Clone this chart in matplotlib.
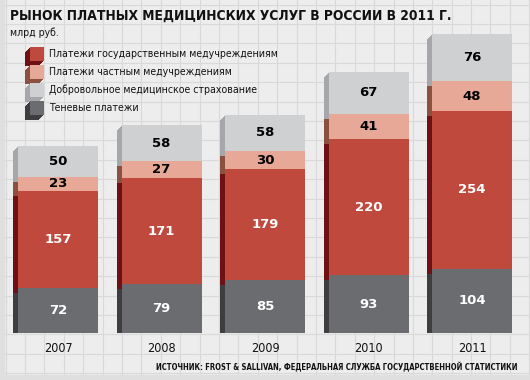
import matplotlib
matplotlib.use("Agg")
import matplotlib.pyplot as plt
from matplotlib.transforms import Affine2D
from matplotlib.patches import Rectangle
import numpy as np

years = ["2007", "2008", "2009", "2010", "2011"]
shadow = [72, 79, 85, 93, 104]
state = [157, 171, 179, 220, 254]
private = [23, 27, 30, 41, 48]
insurance = [50, 58, 58, 67, 76]

series = [shadow, state, private, insurance]
names = ["Теневые платежи", "Платежи государственным медучреждениям",
         "Платежи частным медучреждениям", "Добровольное медицинское страхование"]
front = ["#6b6c70", "#c0493e", "#e8a897", "#cfd0d2"]
side = ["#3e3e41", "#6e1014", "#8a5040", "#a6a7aa"]
txtcol = ["white", "white", "black", "black"]

W, H = 530, 380
fig = plt.figure(figsize=(W / 100, H / 100), dpi=100)
fig.patch.set_facecolor("#ecedec")
renderer = fig.canvas.get_renderer()


def fit(t, width):
    ext = t.get_window_extent(renderer=renderer)
    t.set_fontsize(t.get_fontsize() * width / ext.width)


# background grid
bg = fig.add_axes([0, 0, 1, 1])
bg.set_xlim(0, W)
bg.set_ylim(H, 0)
bg.axis("off")
bg.add_patch(Rectangle((0, 0), W, H, color="#ecedec", zorder=0))
for gx in np.arange(5.5, W, 19.4):
    bg.axvline(gx, color="#d8d9d8", lw=0.8, zorder=1)
for gy in np.arange(4.5, H, 19.4):
    bg.axhline(gy, color="#d8d9d8", lw=0.8, zorder=1)
bg.add_patch(Rectangle((0, 0), 4, H, color="#dedfde", zorder=2))
bg.add_patch(Rectangle((0, H - 5), W, 5, color="#dedfde", zorder=2))

# bars
ax = fig.add_axes([0, 47 / H, 1, 1 - 47 / H])
ax.patch.set_alpha(0)
ax.axis("off")
spacing = 103.5
ax.set_xlim(-58 / spacing, (W - 58) / spacing)
scale = 0.62
ax.set_ylim(0, (H - 47) / scale)
x = np.arange(len(years))
bw = 80 / spacing
depth = 5

bottoms = np.zeros(len(years))
bots = []
for s in series:
    bots.append(bottoms.copy())
    bottoms = bottoms + np.array(s)

for k in range(1, depth + 1):
    tr = ax.transData + Affine2D().translate(-k, -k)
    for s, b, c in zip(series, bots, side):
        ax.bar(x, s, bw, bottom=b, color=c, transform=tr, zorder=2, linewidth=0)
for s, b, c, tc in zip(series, bots, front, txtcol):
    ax.bar(x, s, bw, bottom=b, color=c, zorder=3, linewidth=0)
    for xi, v, bi in zip(x, s, b):
        ax.text(xi, bi + v / 2, str(v), ha="center", va="center", color=tc,
                fontsize=9.5, fontweight="bold", family="DejaVu Sans", zorder=4)

for xi, yr in zip(x, years):
    ax.text(xi, -16 / scale, yr, ha="center", va="center", fontstretch="condensed",
            fontsize=9, family="DejaVu Sans", color="#111111")

# title and units
t = fig.text(10 / W, 1 - 16 / H, "РЫНОК ПЛАТНЫХ МЕДИЦИНСКИХ УСЛУГ В РОССИИ В 2011 Г.",
             fontsize=11, fontweight="bold", family="DejaVu Sans", fontstretch="condensed",
             va="center", ha="left", color="#111111")
fit(t, 442)
fig.text(10 / W, 1 - 33 / H, "млрд руб.", fontsize=7.5, family="DejaVu Sans",
         fontstretch="condensed", va="center", ha="left", color="#111111")

# legend
order = [1, 2, 3, 0]
for i, si in enumerate(order):
    cy = 54 + 18 * i
    for k in range(depth, 0, -1):
        bg.add_patch(Rectangle((30 - k, cy - 7 + k), 14, 14, color=side[si], zorder=3, lw=0))
    bg.add_patch(Rectangle((30, cy - 7), 14, 14, color=front[si], zorder=4, lw=0))
    lt = bg.text(49, cy, names[si], fontsize=8.5, family="DejaVu Sans", fontstretch="condensed",
                 va="center", ha="left", color="#111111", zorder=5)
    if i == 0:
        fit(lt, 230)
        lfs = lt.get_fontsize()
    else:
        lt.set_fontsize(lfs)

s = fig.text(518 / W, 1 - 367 / H,
             "ИСТОЧНИК: FROST & SALLIVAN, ФЕДЕРАЛЬНАЯ СЛУЖБА ГОСУДАРСТВЕННОЙ СТАТИСТИКИ",
             fontsize=7, fontweight="bold", family="DejaVu Sans", fontstretch="condensed",
             va="center", ha="right", color="#111111")
fit(s, 361)

fig.savefig("out.png", dpi=100, facecolor=fig.get_facecolor())
